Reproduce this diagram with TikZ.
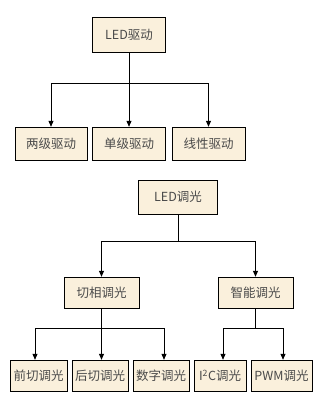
\documentclass[tikz,border=0pt]{standalone}
\usepackage{fontspec}
\setmainfont{Noto Sans CJK SC}
\usetikzlibrary{arrows.meta}

\begin{document}
\begin{tikzpicture}[
    x=1pt, y=-1pt,
    >={Triangle[width=5pt,length=6pt]},
    box/.style={draw=black, fill=boxfill, text=textgray, inner sep=0pt,
        minimum height=33pt, font=\fontsize{12.5}{14}\selectfont},
    link/.style={draw=black, line width=0.8pt}
]
\definecolor{boxfill}{HTML}{FAF0DC}
\definecolor{textgray}{HTML}{4A4A4A}
\useasboundingbox (0,0) rectangle (317,403);

% LED drive tree
\node[box, minimum width=73pt, minimum height=35pt] (drive) at (129,34.5) {LED驱动};
\node[box, minimum width=72pt] (twostage) at (51,143.5) {两级驱动};
\node[box, minimum width=73pt] (onestage) at (129,143.5) {单级驱动};
\node[box, minimum width=73pt] (linear) at (208.5,143.5) {线性驱动};

\coordinate (drivebar) at (drive.south |- 0,83);
\draw[link, ->] (drive.south) -- (drivebar) -| (twostage);
\draw[link, ->] (drivebar) -- (onestage);
\draw[link, ->] (drivebar) -| (linear);

% LED dimming tree
\node[box, minimum width=79pt, minimum height=34pt] (dim) at (178,197) {LED调光};
\node[box, minimum width=75pt, minimum height=31pt] (phase) at (101.5,292.5) {切相调光};
\node[box, minimum width=75pt, minimum height=31pt] (smart) at (255.5,292.5) {智能调光};

\coordinate (dimbar) at (dim.south |- 0,241);
\draw[link, ->] (dim.south) -- (dimbar) -| (phase);
\draw[link, ->] (dimbar) -| (smart);

% leaves
\node[box, minimum width=57pt, minimum height=31pt] (leading) at (38.5,375.5) {前切调光};
\node[box, minimum width=56pt, minimum height=31pt] (trailing) at (100,375.5) {后切调光};
\node[box, minimum width=56pt, minimum height=31pt] (digital) at (161,375.5) {数字调光};
\node[box, minimum width=52pt, minimum height=31pt] (iic) at (220,375.5) {I\textsuperscript{2}C调光};
\node[box, minimum width=61pt, minimum height=31pt] (pwm) at (281.5,375.5) {PWM调光};

\coordinate (phasebar) at (phase.south |- 0,328);
\draw[link, ->] (phase.south) -- (phasebar) -| (leading.north -| 35,0);
\draw[link, ->] (phasebar) -- (trailing.north -| phasebar);
\draw[link, ->] (phasebar) -| (digital.north -| 164,0);

\coordinate (smartbar) at (smart.south |- 0,328);
\draw[link, ->] (smart.south) -- (smartbar) -| (iic.north -| 223,0);
\draw[link, ->] (smartbar) -| (pwm.north -| 283,0);

\end{tikzpicture}
\end{document}
